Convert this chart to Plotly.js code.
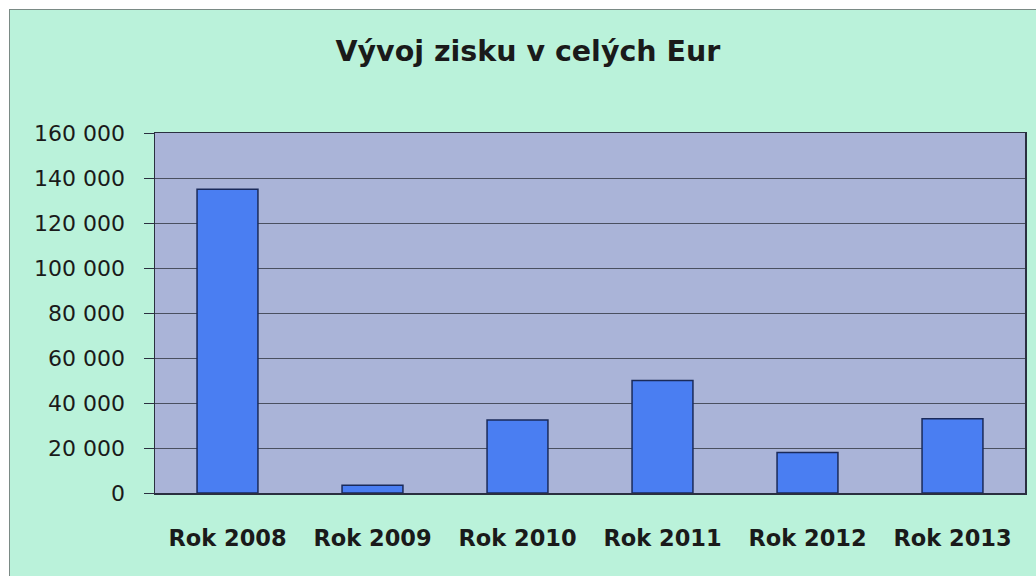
<!DOCTYPE html>
<html>
<head>
<meta charset="utf-8">
<script src="https://cdn.plot.ly/plotly-3.0.1.min.js"></script>
<style>
html,body{margin:0;padding:0;background:#ffffff;overflow:hidden;width:1036px;height:576px;}
#wrap{position:absolute;left:9px;top:9px;width:1040px;height:580px;border:1px solid #7a8a85;}
#chart{width:1040px;height:580px;}
</style>
</head>
<body>
<div id="wrap"><div id="chart"></div></div>
<script>
const categories = ["Rok 2008","Rok 2009","Rok 2010","Rok 2011","Rok 2012","Rok 2013"];
const profit = [135000, 3500, 32500, 50000, 18000, 33000];
const yTicks = [0,20000,40000,60000,80000,100000,120000,140000,160000];

const trace = {
  type: "bar",
  x: categories,
  y: profit,
  marker: {color: "#4a7ef2", line: {color: "#1a2a5a", width: 1.5}},
  hoverinfo: "x+y"
};

const layout = {
  width: 1040, height: 580,
  paper_bgcolor: "#baf2da",
  plot_bgcolor: "#aab4d8",
  separators: ", ",
  margin: {l: 145, r: 25, t: 123, b: 97},
  bargap: 0.58,
  title: {text: "Vývoj zisku v celých Eur", x: 0.498, xanchor: "center", y: 0.93, yanchor: "middle",
          font: {family: "DejaVu Sans, sans-serif", size: 28.5, color: "#1a1a1a", weight: "bold"}},
  font: {family: "DejaVu Sans, sans-serif", color: "#1a1a1a"},
  xaxis: {
    type: "category",
    showline: true, linecolor: "#2a3040", linewidth: 1.5, mirror: true,
    ticks: "", ticklabelstandoff: 24,
    tickfont: {family: "DejaVu Sans, sans-serif", size: 22.5, weight: "bold", color: "#1a1a1a"},
    fixedrange: true
  },
  yaxis: {
    range: [0, 160000],
    tickvals: yTicks,
    tickformat: ",d",
    showline: true, linecolor: "#2a3040", linewidth: 1.5, mirror: true,
    ticks: "outside", ticklen: 10, tickcolor: "#2a3040", tickwidth: 1,
    ticklabelstandoff: 14,
    showgrid: true, gridcolor: "#4a5060", gridwidth: 1,
    zeroline: false,
    tickfont: {family: "DejaVu Sans, sans-serif", size: 22, color: "#1a1a1a"},
    fixedrange: true
  },
  showlegend: false
};

Plotly.newPlot("chart", [trace], layout, {displayModeBar: false, staticPlot: true});
</script>
</body>
</html>
